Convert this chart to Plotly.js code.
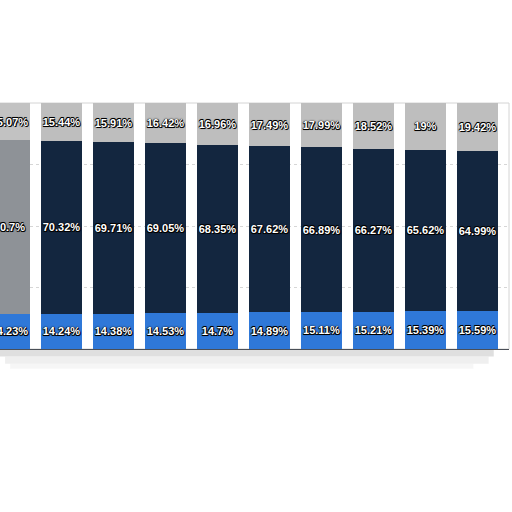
<!DOCTYPE html>
<html>
<head>
<meta charset="utf-8">
<script src="https://cdn.plot.ly/plotly-3.0.1.min.js"></script>
<style>
  html, body { margin: 0; padding: 0; background: #fff; }
  #chart { width: 512px; height: 512px; }
</style>
</head>
<body>
<div id="chart"></div>
<script>
// one column per period, shares in percent (bottom -> top)
const categories = ['1', '2', '3', '4', '5', '6', '7', '8', '9', '10'];
const lowShare  = [14.23, 14.24, 14.38, 14.53, 14.7, 14.89, 15.11, 15.21, 15.39, 15.59];
const midShare  = [70.7, 70.32, 69.71, 69.05, 68.35, 67.62, 66.89, 66.27, 65.62, 64.99];
const highShare = [15.07, 15.44, 15.91, 16.42, 16.96, 17.49, 17.99, 18.52, 19, 19.42];

const labelFont = {
  family: 'Liberation Sans, Arial, sans-serif',
  size: 11,
  weight: 'bold',
  color: '#ffffff',
  shadow: '1px 1px 0 #000, -0.6px -0.6px 0 #000, 0.6px -0.6px 0 #000, -0.6px 0.6px 0 #000, 0 0 2px #000'
};

function series(values, colors) {
  return {
    type: 'bar',
    x: categories,
    y: values,
    text: values.map(v => v + '%'),
    textposition: 'inside',
    insidetextanchor: 'middle',
    textangle: 0,
    constraintext: 'none',
    textfont: labelFont,
    marker: { color: colors, line: { width: 0 } },
    hoverinfo: 'skip'
  };
}

// the first column is faded in the picture
const navy = categories.map((c, i) => i === 0 ? '#8e9297' : '#13263f');
const grey = categories.map((c, i) => i === 0 ? '#c2c2c2' : '#bebebe');

const traces = [
  series(lowShare, '#2f78d8'),
  series(midShare, navy),
  series(highShare, grey)
];

const layout = {
  width: 512,
  height: 512,
  margin: { l: 0, r: 3, t: 103, b: 163 },
  paper_bgcolor: '#ffffff',
  plot_bgcolor: '#ffffff',
  barmode: 'stack',
  bargap: 0.23,
  showlegend: false,
  xaxis: {
    type: 'category',
    range: [-0.183, 9.606],
    showticklabels: false,
    ticks: '',
    showgrid: false,
    zeroline: false,
    showline: true,
    linecolor: '#4a4f57',
    linewidth: 1
  },
  yaxis: {
    range: [0, 100],
    dtick: 25,
    showticklabels: false,
    ticks: '',
    showgrid: true,
    gridcolor: '#d6d6d6',
    griddash: 'dot',
    gridwidth: 1,
    zeroline: false,
    showline: false
  },
  shapes: [
    { type: 'rect', xref: 'paper', yref: 'paper', x0: 0, x1: 1, y0: 0, y1: 1,
      line: { color: '#d4d4d4', width: 1 }, layer: 'below' },
    { type: 'rect', xref: 'paper', yref: 'paper', x0: 0, x1: 0.97, y0: -0.004, y1: -0.03,
      fillcolor: '#d2d2d2', opacity: 0.7, line: { width: 0 } },
    { type: 'rect', xref: 'paper', yref: 'paper', x0: 0.01, x1: 0.96, y0: -0.03, y1: -0.06,
      fillcolor: '#e4e4e4', opacity: 0.6, line: { width: 0 } },
    { type: 'rect', xref: 'paper', yref: 'paper', x0: 0.02, x1: 0.93, y0: -0.06, y1: -0.08,
      fillcolor: '#f0f0f0', opacity: 0.6, line: { width: 0 } }
  ]
};

Plotly.newPlot('chart', traces, layout, { displayModeBar: false, staticPlot: true });
</script>
</body>
</html>
